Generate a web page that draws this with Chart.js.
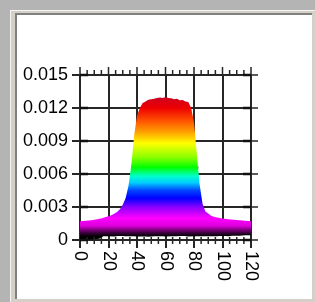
<!DOCTYPE html>
<html>
<head>
<meta charset="utf-8">
<script src="https://cdn.jsdelivr.net/npm/chart.js@4"></script>
<style>
  html, body { margin: 0; padding: 0; }
  body { width: 315px; height: 302px; background: #b4b4b4; position: relative; overflow: hidden; }
  .outer { position: absolute; left: 10px; top: 10px; width: 305px; height: 292px; box-sizing: border-box;
           background: #d4d0c8; border-left: 1px solid #f4f4f4; border-top: 1px solid #f4f4f4; }
  .inner { position: absolute; left: 15px; top: 13px; width: 297px; height: 286px; box-sizing: border-box;
           background: #fff; border-left: 2px solid #808080; border-top: 2px solid #808080; }
  canvas { position: absolute; left: 0; top: 0; }
</style>
</head>
<body>
<div class="outer"></div>
<div class="inner"></div>
<canvas id="chart" width="315" height="302"></canvas>
<script>
// upper curve (top of the coloured area)
const xsTop = [0, 2, 4, 6, 8, 10, 12, 14, 16, 18, 20, 22, 24, 26, 28, 30, 32, 34, 36, 38,
    40, 42, 44, 46, 48, 50, 52, 54, 56, 58, 60, 62, 64, 66, 68, 70, 72, 74, 76, 78,
    80, 82, 84, 86, 88, 90, 92, 94, 96, 98, 100, 104, 108, 112, 116, 120];
const ysTop = [0.0017, 0.00172, 0.00175, 0.00178, 0.0018, 0.00183, 0.00188, 0.00193, 0.002, 0.00208,
    0.00215, 0.00225, 0.00238, 0.00255, 0.0028, 0.0032, 0.0038, 0.0049, 0.0068, 0.0095,
    0.0113, 0.0120, 0.01245, 0.0126, 0.01275, 0.0128, 0.01285, 0.0129, 0.01295, 0.0129,
    0.0130, 0.01292, 0.01288, 0.0128, 0.01285, 0.0127, 0.01272, 0.0126, 0.01255, 0.0120,
    0.0107, 0.0078, 0.0050, 0.0033, 0.0026, 0.0024, 0.0022, 0.00212, 0.00205, 0.002,
    0.00195, 0.00188, 0.00183, 0.0018, 0.00175, 0.0017];

// lower curve (black noisy line near zero)
const xsLow = [0, 4, 8, 12, 14, 16, 20, 24, 28, 32, 36, 40, 44, 48, 52, 56, 60, 64, 68, 72,
    76, 80, 84, 88, 92, 96, 100, 104, 108, 112, 116, 120];
const ysLow = [0.0001, 0.0001, 0.00012, 0.00015, 0.0002, 0.0004, 0.00042, 0.00038, 0.00045, 0.0004,
    0.00043, 0.00038, 0.00042, 0.00036, 0.0004, 0.00044, 0.00038, 0.00042, 0.0004, 0.00045,
    0.00038, 0.00042, 0.0004, 0.00044, 0.0004, 0.00042, 0.00045, 0.0004, 0.00048, 0.00046,
    0.0005, 0.0005];

// dashed half-height line
const xsHalf = [36, 83];
const ysHalf = [0.0066, 0.0066];

const xTickLabels = ['0', '20', '40', '60', '80', '100', '120'];
const yTickLabels = ['0', '0.003', '0.006', '0.009', '0.012', '0.015'];

const rainbow = [
    [0.0130, '#cc0022'], [0.0120, '#ee0000'], [0.0108, '#ff5500'], [0.0097, '#ffaa00'],
    [0.0088, '#ffff00'], [0.0075, '#88ff00'], [0.0066, '#00ff00'], [0.0058, '#00ffcc'],
    [0.0052, '#00ccff'], [0.0045, '#0044ff'], [0.0038, '#0000ff'], [0.0030, '#8800ff'],
    [0.0020, '#ff00ff'], [0.0013, '#dd00dd'], [0.0006, '#300030'], [0.0003, '#000000'],
];

const FONT = '"Liberation Sans", Arial, sans-serif';
const INK = '#262626';

function rainbowFill(context) {
    const chart = context.chart;
    if (!chart.chartArea) return null;
    const y = chart.scales.y;
    const y0 = y.getPixelForValue(rainbow[0][0]);
    const y1 = y.getPixelForValue(rainbow[rainbow.length - 1][0]);
    const g = chart.ctx.createLinearGradient(0, y0, 0, y1);
    rainbow.forEach(([v, c]) => {
        g.addColorStop((y.getPixelForValue(v) - y0) / (y1 - y0), c);
    });
    return g;
}

const extraTicks = {
    id: 'extraTicks',
    afterDraw(chart) {
        const {ctx, chartArea: a, scales: {x, y}} = chart;
        ctx.save();
        ctx.strokeStyle = INK;
        ctx.lineWidth = 1.5;
        ctx.beginPath();
        for (let v = 0; v <= 120; v += 5) {
            const px = x.getPixelForValue(v);
            const major = v % 20 === 0;
            ctx.moveTo(px, a.top - (major ? 8 : 5));
            ctx.lineTo(px, a.top + 1);
            if (!major) {
                ctx.moveTo(px, a.bottom - 3);
                ctx.lineTo(px, a.bottom + 4);
            }
        }
        y.ticks.forEach(t => {
            const py = y.getPixelForValue(t.value);
            ctx.moveTo(a.right, py);
            ctx.lineTo(a.right + 7, py);
        });
        ctx.stroke();

        ctx.lineWidth = 2.5;
        ctx.strokeStyle = '#111';
        ctx.beginPath();
        y.ticks.forEach(t => {
            const py = y.getPixelForValue(t.value);
            ctx.moveTo(a.left, py);
            ctx.lineTo(a.left + 8, py);
            ctx.moveTo(a.right - 8, py);
            ctx.lineTo(a.right, py);
        });
        ctx.stroke();

        // x labels, turned clockwise
        ctx.fillStyle = '#000';
        ctx.font = '18px ' + FONT;
        ctx.textAlign = 'left';
        ctx.textBaseline = 'middle';
        x.ticks.forEach((t, i) => {
            ctx.save();
            ctx.translate(x.getPixelForValue(t.value), a.bottom + 11);
            ctx.rotate(Math.PI / 2);
            ctx.fillText(xTickLabels[i], 0, 0);
            ctx.restore();
        });
        ctx.restore();
    }
};

new Chart(document.getElementById('chart'), {
    type: 'line',
    data: {
        datasets: [
            {
                data: xsTop.map((v, i) => ({x: v, y: ysTop[i]})),
                borderColor: 'rgba(0,0,0,0)',
                borderWidth: 0,
                backgroundColor: rainbowFill,
                fill: '+1',
                pointRadius: 0,
                tension: 0,
            },
            {
                data: xsLow.map((v, i) => ({x: v, y: ysLow[i]})),
                borderColor: '#000',
                borderWidth: 1.5,
                fill: false,
                pointRadius: 0,
                tension: 0,
            },
            {
                data: xsHalf.map((v, i) => ({x: v, y: ysHalf[i]})),
                borderColor: '#000',
                borderWidth: 2,
                borderDash: [6, 2],
                fill: false,
                pointRadius: 0,
            },
        ],
    },
    options: {
        responsive: false,
        animation: false,
        layout: {padding: {left: 18, top: 75, right: 64, bottom: 54}},
        plugins: {legend: {display: false}, tooltip: {enabled: false}},
        scales: {
            x: {
                type: 'linear',
                min: 0,
                max: 120,
                afterFit: (s) => { s.height = 8; },
                ticks: {stepSize: 20, display: false},
                grid: {color: INK, lineWidth: 2, tickLength: 8, tickColor: INK},
                border: {color: INK, width: 2},
            },
            y: {
                min: 0,
                max: 0.015,
                afterFit: (s) => { s.width = 62; },
                ticks: {
                    stepSize: 0.003,
                    padding: 4,
                    color: '#000',
                    font: {family: FONT, size: 18},
                    callback: (v, i) => yTickLabels[i],
                },
                grid: {color: INK, lineWidth: 2, tickLength: 8, tickColor: INK},
                border: {color: INK, width: 2},
            },
        },
    },
    plugins: [extraTicks],
});
</script>
</body>
</html>
